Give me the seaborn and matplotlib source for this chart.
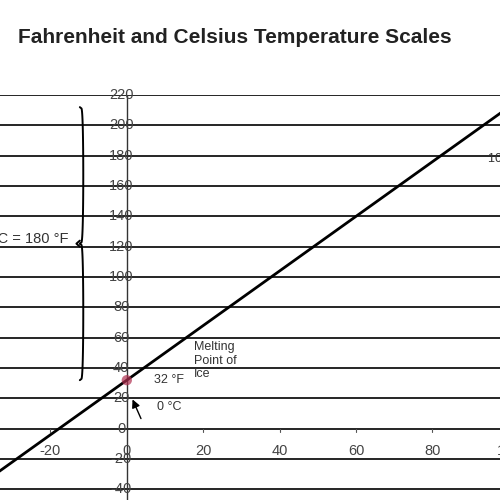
import matplotlib
matplotlib.use("Agg")
import matplotlib.pyplot as plt
import seaborn as sns
import numpy as np
import pandas as pd

sns.set_theme(style="white")
plt.rcParams['font.family'] = ['Liberation Sans', 'DejaVu Sans']

celsius = [-40, 0, 100]
fahrenheit = [-40, 32, 212]
marked_c = [0, 100]
marked_f = [32, 212]
y_ticks = [-40, -20, 0, 20, 40, 60, 80, 100, 120, 140, 160, 180, 200, 220]
x_ticks = [-20, 0, 20, 40, 60, 80, 100]
title = "Fahrenheit and Celsius Temperature Scales"

df = pd.DataFrame({"C": celsius, "F": fahrenheit})

fig = plt.figure(figsize=(5, 5), dpi=100)
ax = fig.add_axes([0, 0, 1, 0.81])
ax.set_xlim(-33.2, 97.7)
ax.set_ylim(-47, 220)
for s in ax.spines.values():
    s.set_visible(False)
ax.set_xticks([]); ax.set_yticks([])

for y in y_ticks:
    ax.axhline(y, color="black", lw=1.2, zorder=1)
    ax.text(-1.5, y, str(y), ha="center", va="center", fontsize=10.5, color="#444444", zorder=3)
ax.axvline(0, color="#333333", lw=1.0, zorder=1)
for x in x_ticks:
    if x != 0:
        ax.plot([x, x], [-2, 0], color="#555555", lw=0.8)
    ax.text(x, -15, str(x), ha="center", va="center", fontsize=10.5, color="#444444")

sns.lineplot(data=df, x="C", y="F", color="black", lw=2, ax=ax, zorder=4)
ax.scatter(marked_c, marked_f, s=55, color="#b03050", alpha=0.7, zorder=5, edgecolors="none")
ax.set_xlabel(""); ax.set_ylabel("")

# brace
ymid = 122
def half(y0, y1):
    u = np.linspace(0, 1, 100)
    yy = y0 + (y1 - y0) * u
    xx = -12.3 + 0.9 * np.sin(np.pi * u) ** 0.2
    return xx, yy
x1, y1 = half(32, ymid); x2, y2 = half(ymid, 212)
ax.plot(x1, y1, color="black", lw=1.4)
ax.plot(x2, y2, color="black", lw=1.4)
ax.plot([-12.3, -13.2, -12.3], [ymid - 2, ymid, ymid + 2], color="black", lw=1.4)

ax.text(-15.2, 125, "100 °C = 180 °F", ha="right", va="center", fontsize=10.5, color="#333333")
ax.text(17.5, 58, "Melting\nPoint of\nIce", ha="left", va="top", fontsize=9, color="#333333", linespacing=1.2)
ax.text(7.2, 32, "32 °F", ha="left", va="center", fontsize=9, color="#333333")
ax.text(8, 14, "0 °C", ha="left", va="center", fontsize=9, color="#333333")
ax.annotate("", xy=(1.2, 21), xytext=(4, 5),
            arrowprops=dict(arrowstyle="-|>", color="black", lw=1))
ax.text(94.5, 178, "100 °C", ha="left", va="center", fontsize=9, color="#333333")

fig.text(0.47, 0.925, title, ha="center", va="center", fontsize=15, fontweight="bold", color="#222222")
fig.savefig("out.png", dpi=100)
